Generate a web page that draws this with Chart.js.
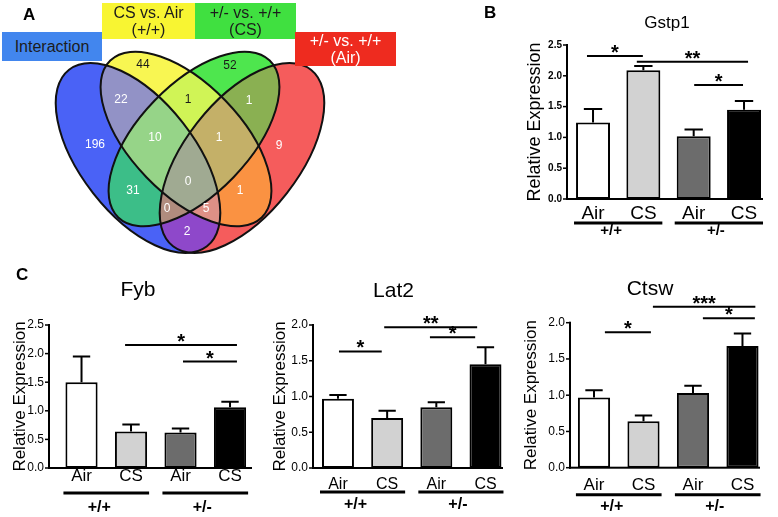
<!DOCTYPE html>
<html>
<head>
<meta charset="utf-8">
<script src="https://cdn.jsdelivr.net/npm/chart.js@4.4.1/dist/chart.umd.min.js"></script>
<style>
  html, body { margin: 0; padding: 0; background: #fff; }
  body { width: 778px; height: 517px; position: relative; overflow: hidden; font-family: 'Liberation Sans', Arial, sans-serif; }
  canvas { position: absolute; }
  .letter { position: absolute; font-weight: bold; font-size: 17px; line-height: 17px; }
  .hdr { position: absolute; display: flex; align-items: center; justify-content: center; text-align: center; font-size: 16px; line-height: 17px; }
</style>
</head>
<body>
<canvas id="venn" width="400" height="262" style="left:0;top:0"></canvas>
<canvas id="gstp1" width="288" height="262" style="left:490px;top:0"></canvas>
<canvas id="fyb" width="262" height="255" style="left:0;top:262px"></canvas>
<canvas id="lat2" width="256" height="255" style="left:262px;top:262px"></canvas>
<canvas id="ctsw" width="260" height="255" style="left:518px;top:262px"></canvas>
<div class="letter" style="left:23px;top:6px">A</div>
<div class="letter" style="left:484px;top:4px">B</div>
<div class="letter" style="left:16px;top:266px">C</div>
<div id="headers"></div>

<script>
Chart.defaults.font.family = "'Liberation Sans', Arial, sans-serif"
Chart.defaults.color = '#000'

// ---- data ----
const conditions = ['Air', 'CS', 'Air', 'CS']
const genotypes = ['+/+', '+/-']
const genotypeBars = [[0, 1], [2, 3]]

// significance brackets: [from, to (category units), height, stars]
const gstp1Mean = [1.24, 2.09, 1.02, 1.45]
const gstp1Sem = [0.22, 0.07, 0.11, 0.14]
const gstp1Sig = [[-0.12, 0.99, 2.32, '*'], [0.87, 3.08, 2.23, '**'], [2.01, 2.98, 1.85, '*']]

const fybMean = [1.50, 0.64, 0.62, 1.06]
const fybSem = [0.45, 0.12, 0.07, 0.10]
const fybSig = [[0.88, 3.14, 2.15, '*'], [2.05, 3.14, 1.86, '*']]

const lat2Mean = [0.97, 0.70, 0.85, 1.45]
const lat2Sem = [0.05, 0.10, 0.07, 0.24]
const lat2Sig = [[0.02, 0.89, 1.63, '*'], [0.94, 2.83, 1.97, '**'], [1.87, 2.79, 1.83, '*']]

const ctswMean = [0.97, 0.64, 1.03, 1.68]
const ctswSem = [0.10, 0.08, 0.10, 0.17]
const ctswSig = [[0.22, 1.15, 1.87, '*'], [1.19, 3.26, 2.22, '***'], [2.2, 3.25, 2.06, '*']]

const vennSetNames = ['Interaction', 'CS vs. Air (+/+)', '+/- vs. +/+ (CS)', '+/- vs. +/+ (Air)']
const vennRegions = ['B', 'Y', 'G', 'R', 'BY', 'YG', 'GR', 'BYG', 'YGR', 'BG', 'YR', 'BYGR', 'BGR', 'BYR', 'BR']
const vennCounts = [196, 44, 52, 9, 22, 1, 1, 10, 1, 31, 1, 0, 0, 5, 2]

// ---- layout / styles ----
const vennSets = ['B', 'Y', 'G', 'R']
const vennShapes = {
    B: { cx: 138, cy: 158, a: 112, b: 57, rot: 52 },
    Y: { cx: 186, cy: 139, a: 109, b: 55, rot: 46 },
    G: { cx: 194, cy: 139, a: 109, b: 55, rot: 134 },
    R: { cx: 242, cy: 158, a: 112, b: 57, rot: 128 }
}
const vennFill = {
    B: 'rgb(74,98,246)', Y: 'rgb(248,246,82)', G: 'rgb(78,230,78)', R: 'rgb(245,92,92)',
    BY: 'rgb(146,146,198)', YG: 'rgb(208,244,86)', GR: 'rgb(138,176,82)',
    BYG: 'rgb(150,212,136)', YGR: 'rgb(196,176,104)', BG: 'rgb(60,190,136)',
    YR: 'rgb(250,146,66)', BYGR: 'rgb(160,170,146)', BGR: 'rgb(176,140,126)',
    BYR: 'rgb(222,144,134)', BR: 'rgb(142,72,202)'
}
const vennLabelAt = {
    B: [95, 145], Y: [143, 65], G: [230, 66], R: [279, 146], BY: [121, 100], YG: [188, 100],
    GR: [249, 101], BYG: [155, 138], YGR: [219, 138], BG: [133, 191], YR: [240, 191],
    BYGR: [188, 182], BGR: [167, 209], BYR: [206, 209], BR: [187, 232]
}
const vennDarkText = ['Y', 'G', 'YG']
const headerBoxes = [
    { left: 2, top: 32, w: 100, h: 29, bg: '#4286ee', color: '#1c1c1c' },
    { left: 102, top: 3, w: 93, h: 36, bg: '#f8f532', color: '#1c1c1c' },
    { left: 195, top: 3, w: 101, h: 36, bg: '#40e040', color: '#1c1c1c' },
    { left: 295, top: 32, w: 101, h: 34, bg: '#ee2b1f', color: '#ffffff' }
]
const barColors = ['#ffffff', '#d2d2d2', '#6c6c6c', '#000000']

// header boxes above the Venn diagram
const hdrHost = document.getElementById('headers')
vennSetNames.forEach((name, i) => {
    const b = headerBoxes[i]
    const div = document.createElement('div')
    div.className = 'hdr'
    div.style.cssText = `left:${b.left}px;top:${b.top}px;width:${b.w}px;height:${b.h}px;background:${b.bg};color:${b.color}`
    const cut = name.indexOf(' (')
    if (cut > 0) {
        div.appendChild(document.createTextNode(name.slice(0, cut)))
        div.appendChild(document.createElement('br'))
        div.appendChild(document.createTextNode(name.slice(cut + 1)))
    } else {
        div.textContent = name
    }
    hdrHost.appendChild(div)
})

// ---- Venn diagram ----
const vennPlugin = {
    id: 'venn',
    beforeDatasetsDraw(chart) {
        const { ctx, chartArea: ca, scales: { x, y } } = chart
        const k = x.getPixelForValue(1) - x.getPixelForValue(0)
        const path = (s) => {
            const e = vennShapes[s]
            ctx.ellipse(x.getPixelForValue(e.cx), y.getPixelForValue(e.cy), e.a * k, e.b * k, e.rot * Math.PI / 180, 0, Math.PI * 2)
        }
        // fill each region on its own: inside its sets, outside the others
        vennRegions.forEach(r => {
            ctx.save()
            vennSets.forEach(s => {
                ctx.beginPath()
                if (r.includes(s)) {
                    path(s)
                    ctx.clip()
                } else {
                    ctx.rect(ca.left, ca.top, ca.width, ca.height)
                    path(s)
                    ctx.clip('evenodd')
                }
            })
            ctx.fillStyle = vennFill[r]
            ctx.fillRect(ca.left, ca.top, ca.width, ca.height)
            ctx.restore()
        })
        ctx.save()
        ctx.lineWidth = 2
        ctx.strokeStyle = '#111'
        vennSets.forEach(s => { ctx.beginPath(); path(s); ctx.stroke() })
        ctx.restore()
    },
    afterDatasetsDraw(chart) {
        const { ctx } = chart
        const pts = chart.getDatasetMeta(0).data
        ctx.save()
        ctx.font = "12px 'Liberation Sans', Arial, sans-serif"
        ctx.textAlign = 'center'
        ctx.textBaseline = 'middle'
        vennRegions.forEach((r, i) => {
            ctx.fillStyle = vennDarkText.includes(r) ? '#1a1a1a' : '#ffffff'
            ctx.fillText(String(vennCounts[i]), pts[i].x, pts[i].y)
        })
        ctx.restore()
    }
}

new Chart(document.getElementById('venn'), {
    type: 'scatter',
    data: {
        datasets: [{
            data: vennRegions.map(r => ({ x: vennLabelAt[r][0], y: vennLabelAt[r][1] })),
            pointRadius: 0
        }]
    },
    options: {
        responsive: false,
        animation: false,
        devicePixelRatio: 1,
        events: [],
        layout: { autoPadding: false, padding: 0 },
        plugins: { legend: { display: false }, tooltip: { enabled: false } },
        scales: {
            x: { type: 'linear', min: 0, max: 400, display: false },
            y: { type: 'linear', min: 0, max: 262, reverse: true, display: false }
        }
    },
    plugins: [vennPlugin]
})

// ---- bar panels ----
function extras(p) {
    return {
        id: 'extras',
        afterDraw(chart) {
            const { ctx, scales: { x, y } } = chart
            const bars = chart.getDatasetMeta(0).data
            const fam = "'Liberation Sans', Arial, sans-serif"
            const left = x.getPixelForValue(p.xMin)
            const right = x.getPixelForValue(p.xMax)
            const bottom = y.getPixelForValue(0)
            const top = y.getPixelForValue(p.yMax)
            ctx.save()
            ctx.strokeStyle = '#000'
            ctx.fillStyle = '#000'

            // axes and small outside ticks on y
            ctx.fillRect(left - 1, top - 1, 2, bottom - top + 2)
            ctx.fillRect(left - 1, bottom - 1, right - left + 1, 2)
            y.ticks.forEach(t => {
                const ty = y.getPixelForValue(t.value)
                ctx.fillRect(left - 4, ty - 0.75, 4, 1.5)
            })

            // title
            ctx.font = `${p.titleSize}px ${fam}`
            ctx.textAlign = 'center'
            ctx.textBaseline = 'middle'
            ctx.fillText(p.title, p.titleX, p.titleY)

            // error bars (upper only)
            ctx.lineWidth = 2
            p.mean.forEach((m, i) => {
                const bx = bars[i].x
                const half = bars[i].width * 0.27
                const et = y.getPixelForValue(m + p.sem[i])
                ctx.beginPath()
                ctx.moveTo(bx, y.getPixelForValue(m))
                ctx.lineTo(bx, et)
                ctx.moveTo(bx - half, et)
                ctx.lineTo(bx + half, et)
                ctx.stroke()
            })

            // significance brackets
            ctx.font = `bold 20px ${fam}`
            ctx.textBaseline = 'alphabetic'
            p.sig.forEach(([from, to, level, label]) => {
                const x0 = x.getPixelForValue(from)
                const x1 = x.getPixelForValue(to)
                const yy = y.getPixelForValue(level)
                ctx.lineWidth = 2
                ctx.beginPath()
                ctx.moveTo(x0, yy)
                ctx.lineTo(x1, yy)
                ctx.stroke()
                ctx.fillText(label, (x0 + x1) / 2, yy + 3)
            })

            // genotype lines under the conditions
            ctx.font = `bold ${p.groupFont}px ${fam}`
            ctx.textBaseline = 'middle'
            genotypeBars.forEach(([a, b], g) => {
                const l = bars[a].x - bars[a].width / 2 - 2
                const r = bars[b].x + bars[b].width / 2 + 2
                const gy = bottom + p.groupLineDy
                ctx.lineWidth = 3
                ctx.beginPath()
                ctx.moveTo(l, gy)
                ctx.lineTo(r, gy)
                ctx.stroke()
                ctx.fillText(genotypes[g], (l + r) / 2 + (g === 0 ? -7 : -3), bottom + p.groupLabelDy)
            })
            ctx.restore()
        }
    }
}

function exprChart(id, p) {
    return new Chart(document.getElementById(id), {
        type: 'bar',
        data: {
            datasets: [{
                data: p.mean.map((v, i) => ({ x: i, y: v })),
                backgroundColor: barColors,
                borderColor: '#000',
                borderWidth: 2,
                borderSkipped: false,
                barPercentage: p.barPct,
                categoryPercentage: 1
            }]
        },
        options: {
            responsive: false,
            animation: false,
            devicePixelRatio: 1,
            events: [],
            layout: { autoPadding: false, padding: { left: 0, right: p.padRight, top: p.plotTop, bottom: 0 } },
            plugins: { legend: { display: false }, tooltip: { enabled: false } },
            scales: {
                x: {
                    type: 'linear',
                    bounds: 'data',
                    offset: false,
                    min: p.xMin,
                    max: p.xMax,
                    afterFit: s => { s.height = p.xAxisH },
                    afterBuildTicks: s => { s.ticks = conditions.map((c, i) => ({ value: i })) },
                    grid: { display: false, drawTicks: false },
                    border: { display: false },
                    ticks: {
                        autoSkip: false,
                        maxRotation: 0,
                        padding: p.xPad,
                        font: { size: p.xFont },
                        callback: v => conditions[Math.round(v)]
                    }
                },
                y: {
                    min: 0,
                    max: p.yMax,
                    afterFit: s => { s.width = p.yAxisW },
                    grid: { display: false, drawTicks: true, tickLength: 4 },
                    border: { display: false },
                    ticks: { stepSize: 0.5, padding: 1, font: p.tickFont, callback: v => v.toFixed(1) },
                    title: {
                        display: true,
                        text: 'Relative Expression',
                        font: { size: p.yTitleSize },
                        padding: { top: p.yTitlePad, bottom: 0 }
                    }
                }
            }
        },
        plugins: [extras(p)]
    })
}

exprChart('gstp1', {
    title: 'Gstp1', titleX: 177, titleY: 23, titleSize: 17,
    mean: gstp1Mean, sem: gstp1Sem, sig: gstp1Sig, yMax: 2.5,
    xMin: -0.517, xMax: 3.377, barPct: 0.675,
    padRight: 15, plotTop: 45, xAxisH: 63, yAxisW: 77,
    xPad: 3, xFont: 19, tickFont: { size: 10, weight: 'bold' },
    yTitleSize: 18, yTitlePad: 34.2,
    groupLineDy: 24, groupLabelDy: 31.5, groupFont: 15
})

exprChart('fyb', {
    title: 'Fyb', titleX: 138, titleY: 28.7, titleSize: 21,
    mean: fybMean, sem: fybSem, sig: fybSig, yMax: 2.5,
    xMin: -0.657, xMax: 3.444, barPct: 0.65,
    padRight: 10, plotTop: 63, xAxisH: 49, yAxisW: 49,
    xPad: -1.5, xFont: 17, tickFont: { size: 12 },
    yTitleSize: 17, yTitlePad: 9.8,
    groupLineDy: 25, groupLabelDy: 40, groupFont: 16
})

exprChart('lat2', {
    title: 'Lat2', titleX: 131.5, titleY: 29.7, titleSize: 21,
    mean: lat2Mean, sem: lat2Sem, sig: lat2Sig, yMax: 2.0,
    xMin: -0.508, xMax: 3.356, barPct: 0.65,
    padRight: 15, plotTop: 63, xAxisH: 49, yAxisW: 51,
    xPad: 7.4, xFont: 16, tickFont: { size: 12 },
    yTitleSize: 17, yTitlePad: 7.8,
    groupLineDy: 24, groupLabelDy: 37, groupFont: 16
})

exprChart('ctsw', {
    title: 'Ctsw', titleX: 132, titleY: 27, titleSize: 21,
    mean: ctswMean, sem: ctswSem, sig: ctswSig, yMax: 2.0,
    xMin: -0.485, xMax: 3.354, barPct: 0.65,
    padRight: 18, plotTop: 60.7, xAxisH: 49.3, yAxisW: 52,
    xPad: 7.1, xFont: 17, tickFont: { size: 12 },
    yTitleSize: 17, yTitlePad: 2.8,
    groupLineDy: 27, groupLabelDy: 39, groupFont: 16
})
</script>
</body>
</html>
